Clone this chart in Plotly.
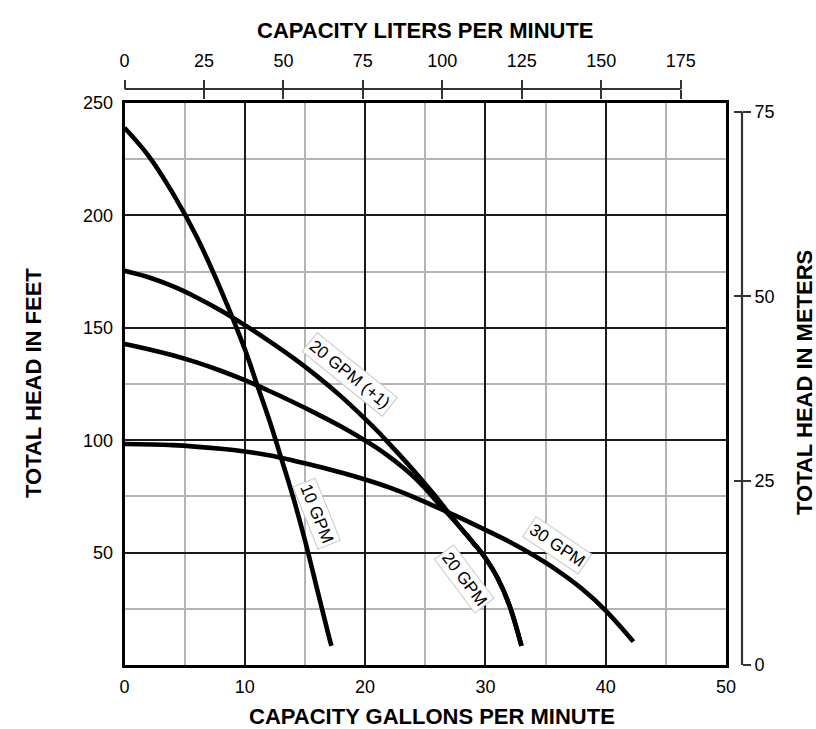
import plotly.graph_objects as go

# ---------------- data ----------------
# Capacity (US gallons per minute) and total head (feet) for each pump curve
Q_10GPM = [0, 2, 4, 6, 8, 10, 11, 12, 13, 14, 15, 16, 17, 17.2]
H_10GPM = [239, 226.5, 210, 190.5, 167, 140.5, 125, 109.5, 92.5, 75, 55.5, 34, 12.5, 8.5]

Q_20GPM_P1 = [0, 2, 4, 6, 8, 10, 12, 14, 16, 18, 20, 21, 22, 23, 24, 25, 26, 27, 28,
              29, 30, 31, 32, 33.0]
H_20GPM_P1 = [175.4, 172.5, 168.5, 163.5, 157.7, 151.2, 144.2, 136.7, 128.5, 119.5, 109.5, 104.2,
              98.5, 92.7, 86.7, 80.5, 74.1, 67.3, 60.6, 54.3, 47.6, 38.8, 26.5, 8.5]

Q_20GPM = [0, 2, 4, 6, 8, 10, 12, 14, 16, 18, 20, 21, 22, 23, 24, 25, 26, 27, 28,
           29, 30, 31, 32, 33.0]
H_20GPM = [142.8, 140.5, 137.8, 134.6, 130.9, 126.7, 122.0, 117.0, 111.7, 106.1, 99.9, 96.5,
           92.7, 88.5, 83.9, 78.5, 72.4, 66.6, 60.6, 54.3, 47.6, 38.8, 26.5, 8.5]

Q_30GPM = [0, 4, 8, 10, 12, 14, 16, 18, 20, 22, 24, 26, 28, 30, 32, 34, 36, 38, 40, 42.3]
H_30GPM = [98.3, 97.8, 96.2, 95, 93.3, 91, 88.4, 85.6, 82.5, 79, 74.8, 70.1, 65.2, 60.1, 54.8,
           48.8, 42, 34, 24.2, 10.4]

CURVES = [(Q_10GPM, H_10GPM), (Q_20GPM_P1, H_20GPM_P1), (Q_20GPM, H_20GPM), (Q_30GPM, H_30GPM)]

LABEL_TEXT = ["10 GPM", "20 GPM (+1)", "20 GPM", "30 GPM"]
LABEL_Q = [15.98, 18.74, 28.2, 35.98]
LABEL_H = [67.5, 129.4, 38.3, 53.1]
LABEL_ANGLE = [68, 39, 53, 34]

GPM_TICKS = [0, 10, 20, 30, 40, 50]
GPM_MINOR = [5, 15, 25, 35, 45]
FT_TICKS = [50, 100, 150, 200, 250]
FT_MINOR = [25, 75, 125, 175, 225]
LPM_TICKS = [0, 25, 50, 75, 100, 125, 150, 175]
M_TICKS = [0, 25, 50, 75]

LPM_PER_GPM = 3.78541
FT_PER_M = 3.28084
GPM_RANGE = [0, 50]
FT_RANGE = [0, 250]

# ---------------- layout geometry ----------------
W, H = 816, 729


def px(x):
    return x / W


def py(y):
    return (H - y) / H


X_DOM = [px(124.5), px(726)]
Y_DOM = [py(665), py(103)]

FONT = "Liberation Sans, Arial, Helvetica, sans-serif"
BLACK = "#000000"
GRID_DARK = "#1a1a1a"
GRID_LIGHT = "#b4b4b4"

fig = go.Figure()

for q, h in CURVES:
    fig.add_trace(go.Scatter(
        x=q, y=h, mode="lines",
        line=dict(color=BLACK, width=4.6, shape="spline", smoothing=1.0),
        hoverinfo="skip", showlegend=False))

# invisible traces to bind the secondary (unit conversion) axes
lpm_max = GPM_RANGE[1] * LPM_PER_GPM
m_max = FT_RANGE[1] / FT_PER_M
for xa in ["x2", "x3"]:
    fig.add_trace(go.Scatter(x=[LPM_TICKS[0], LPM_TICKS[-1]], y=[FT_RANGE[0], FT_RANGE[0]],
                             xaxis=xa, yaxis="y", mode="markers",
                             marker=dict(opacity=0), hoverinfo="skip", showlegend=False))
for ya in ["y2", "y3"]:
    fig.add_trace(go.Scatter(x=[GPM_RANGE[0], GPM_RANGE[0]], y=[M_TICKS[0], M_TICKS[-1]],
                             xaxis="x", yaxis=ya, mode="markers",
                             marker=dict(opacity=0), hoverinfo="skip", showlegend=False))

tickfont = dict(family=FONT, size=18, color=BLACK)

fig.update_layout(
    width=W, height=H, autosize=False,
    margin=dict(l=0, r=0, t=0, b=0, autoexpand=False),
    paper_bgcolor="white",
    plot_bgcolor="rgba(0,0,0,0)",
    showlegend=False,
    xaxis=dict(
        domain=X_DOM, range=GPM_RANGE, tickvals=GPM_TICKS,
        showgrid=True, gridcolor=GRID_DARK, gridwidth=1.6,
        minor=dict(tickvals=GPM_MINOR, showgrid=True, gridcolor=GRID_LIGHT, gridwidth=1.6, ticks=""),
        zeroline=False, showline=True, mirror=True, linecolor=BLACK, linewidth=2.6,
        ticks="outside", ticklen=4, tickcolor="rgba(0,0,0,0)",
        tickfont=tickfont, fixedrange=True,
    ),
    yaxis=dict(
        domain=Y_DOM, range=FT_RANGE, tickvals=FT_TICKS,
        showgrid=True, gridcolor=GRID_DARK, gridwidth=1.6,
        minor=dict(tickvals=FT_MINOR, showgrid=True, gridcolor=GRID_LIGHT, gridwidth=1.6, ticks=""),
        zeroline=False, showline=True, mirror=True, linecolor=BLACK, linewidth=2.6,
        ticks="outside", ticklen=5, tickcolor="rgba(0,0,0,0)",
        tickfont=tickfont, fixedrange=True,
    ),
    xaxis2=dict(
        overlaying="x", anchor="free", position=py(89), side="top",
        range=[0, lpm_max], tickvals=LPM_TICKS, showgrid=False, zeroline=False, showline=False,
        ticks="outside", ticklen=9, tickwidth=1.6, tickcolor="#333333", ticklabelstandoff=6,
        tickfont=tickfont, fixedrange=True,
    ),
    xaxis3=dict(
        overlaying="x", anchor="free", position=py(89), side="top",
        range=[0, lpm_max], tickvals=LPM_TICKS, showgrid=False, zeroline=False, showline=False,
        ticks="inside", ticklen=9, tickwidth=1.6, tickcolor="#333333",
        showticklabels=False, fixedrange=True,
    ),
    yaxis2=dict(
        overlaying="y", anchor="free", position=px(742), side="right",
        range=[0, m_max], tickvals=M_TICKS, showgrid=False, zeroline=False, showline=False,
        ticks="outside", ticklen=8, tickwidth=1.6, tickcolor="#333333",
        tickfont=tickfont, fixedrange=True,
    ),
    yaxis3=dict(
        overlaying="y", anchor="free", position=px(742), side="right",
        range=[0, m_max], tickvals=M_TICKS, showgrid=False, zeroline=False, showline=False,
        ticks="inside", ticklen=8, tickwidth=1.6, tickcolor="#333333",
        showticklabels=False, fixedrange=True,
    ),
)

# secondary axis lines, spanning only the labelled range
fig.add_shape(type="line", xref="x2", yref="paper",
              x0=LPM_TICKS[0], x1=LPM_TICKS[-1], y0=py(89), y1=py(89),
              line=dict(color="#333333", width=2.2))
fig.add_shape(type="line", xref="paper", yref="y2",
              x0=px(742), x1=px(742), y0=M_TICKS[0], y1=M_TICKS[-1],
              line=dict(color="#333333", width=2.2))

# curve labels
for t, q, h, a in zip(LABEL_TEXT, LABEL_Q, LABEL_H, LABEL_ANGLE):
    fig.add_annotation(x=q, y=h, xref="x", yref="y", text=t, textangle=a,
                       xanchor="center", yanchor="middle",
                       showarrow=False, font=dict(family=FONT, size=17, color=BLACK),
                       bgcolor="white", bordercolor="#c8c8c8", borderwidth=1, borderpad=2)

# axis titles
title_font = dict(family=FONT, size=22, color=BLACK)
TITLES = [
    ("<b>CAPACITY LITERS PER MINUTE</b>", 425, 30, 0),
    ("<b>CAPACITY GALLONS PER MINUTE</b>", 432, 716, 0),
    ("<b>TOTAL HEAD IN FEET</b>", 33, 383, -90),
    ("<b>TOTAL HEAD IN METERS</b>", 804, 383, -90),
]
for text, x, y, ang in TITLES:
    fig.add_annotation(x=px(x), y=py(y), xref="paper", yref="paper", text=text, textangle=ang,
                       xanchor="center", yanchor="middle", showarrow=False, font=title_font)

# remove the default page margin so the 816x729 figure fills the window exactly
PAGE_FIX = ("document.body.style.margin='0';document.body.style.overflow='hidden';"
            "document.documentElement.style.overflow='hidden';")
fig.write_html("out.html", post_script=PAGE_FIX, config={"displayModeBar": False})
